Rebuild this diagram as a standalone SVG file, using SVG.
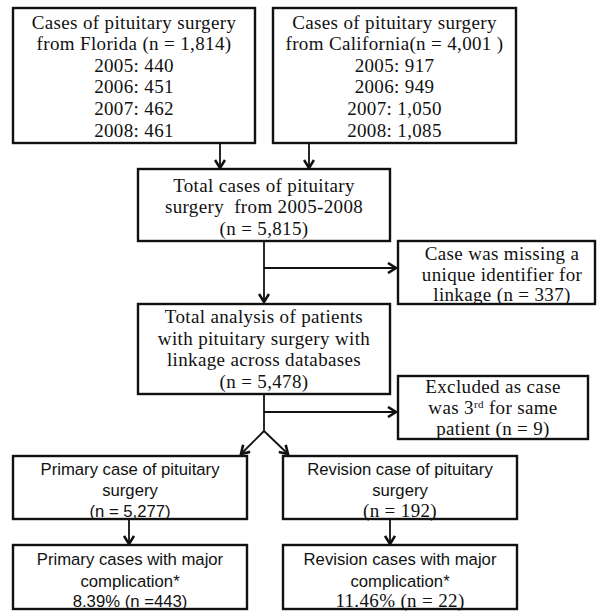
<svg xmlns="http://www.w3.org/2000/svg" width="597" height="611" viewBox="0 0 597 611">
<style>
.box{fill:#fff;stroke:#111;stroke-width:2.4}
.s{font-family:"Liberation Serif","Times New Roman",serif;font-size:19px;letter-spacing:0.35px;fill:#111;text-anchor:middle}
.a{font-family:"Liberation Sans",Arial,sans-serif;font-size:16.7px;fill:#111;text-anchor:middle}
.ln{fill:none;stroke:#111;stroke-width:1.8}
</style>
<defs>
<marker id="ah" viewBox="-10 -6 12 12" markerWidth="12" markerHeight="12" refX="0" refY="0" orient="auto" markerUnits="userSpaceOnUse">
<path d="M-8,-5 L0,0 L-8,5" fill="none" stroke="#111" stroke-width="2.6"/>
</marker>
</defs>
<g id="connectors">
<line class="ln" x1="220" y1="143" x2="220" y2="168" marker-end="url(#ah)"/>
<line class="ln" x1="309" y1="143" x2="309" y2="168" marker-end="url(#ah)"/>
<line class="ln" x1="264" y1="241" x2="264" y2="302" marker-end="url(#ah)"/>
<line class="ln" x1="264" y1="268" x2="396" y2="268" marker-end="url(#ah)"/>
<line class="ln" x1="264" y1="394" x2="264" y2="431"/>
<line class="ln" x1="264" y1="412" x2="396" y2="412" marker-end="url(#ah)"/>
<line class="ln" x1="264" y1="431" x2="241" y2="454" marker-end="url(#ah)"/>
<line class="ln" x1="264" y1="431" x2="288" y2="454" marker-end="url(#ah)"/>
<line class="ln" x1="129" y1="519" x2="129" y2="544" marker-end="url(#ah)"/>
<line class="ln" x1="390" y1="519" x2="390" y2="544" marker-end="url(#ah)"/>
</g>
<g id="florida">
<rect class="box" x="13" y="8" width="242" height="135"/>
<text class="s" x="134" y="29">Cases of pituitary surgery</text>
<text class="s" x="134" y="50">from Florida (n = 1,814)</text>
<text class="s" x="134" y="72">2005: 440</text>
<text class="s" x="134" y="93">2006: 451</text>
<text class="s" x="134" y="115">2007: 462</text>
<text class="s" x="134" y="137">2008: 461</text>
</g>
<g id="california">
<rect class="box" x="273" y="8" width="243" height="135"/>
<text class="s" x="394.5" y="29">Cases of pituitary surgery</text>
<text class="s" x="394.5" y="50">from California(n = 4,001 )</text>
<text class="s" x="394.5" y="72">2005: 917</text>
<text class="s" x="394.5" y="93">2006: 949</text>
<text class="s" x="394.5" y="115">2007: 1,050</text>
<text class="s" x="394.5" y="137">2008: 1,085</text>
</g>
<g id="total">
<rect class="box" x="138" y="169" width="252" height="72"/>
<text class="s" x="264" y="192">Total cases of pituitary</text>
<text class="s" x="264" y="213" xml:space="preserve">surgery  from 2005-2008</text>
<text class="s" x="264" y="235">(n = 5,815)</text>
</g>
<g id="missing">
<rect class="box" x="398" y="241" width="197" height="63"/>
<text class="s" x="502" y="260">Case was missing a</text>
<text class="s" x="502" y="281">unique identifier for</text>
<text class="s" x="502" y="301">linkage (n = 337)</text>
</g>
<g id="analysis">
<rect class="box" x="138" y="304" width="252" height="90"/>
<text class="s" x="264" y="323">Total analysis of patients</text>
<text class="s" x="264" y="345">with pituitary surgery with</text>
<text class="s" x="264" y="366">linkage across databases</text>
<text class="s" x="264" y="388">(n = 5,478)</text>
</g>
<g id="excluded">
<rect class="box" x="398" y="376" width="190" height="63"/>
<text class="s" x="493" y="393">Excluded as case</text>
<text class="s" x="493" y="414">was 3<tspan font-size="11" dy="-6">rd</tspan><tspan dy="6"> for same</tspan></text>
<text class="s" x="493" y="435">patient (n = 9)</text>
</g>
<g id="primary">
<rect class="box" x="13" y="456" width="234" height="63"/>
<text class="a" x="130" y="475">Primary case of pituitary</text>
<text class="a" x="130" y="496">surgery</text>
<text class="a" x="130" y="517">(n = 5,277)</text>
</g>
<g id="revision">
<rect class="box" x="283" y="456" width="234" height="63"/>
<text class="a" x="400" y="475">Revision case of pituitary</text>
<text class="a" x="400" y="496">surgery</text>
<text class="s" x="400" y="517">(n = 192)</text>
</g>
<g id="primary-comp">
<rect class="box" x="13" y="545" width="234" height="64"/>
<text class="a" x="130" y="565">Primary cases with major</text>
<text class="a" x="130" y="587">complication*</text>
<text class="a" x="130" y="607">8.39% (n =443)</text>
</g>
<g id="revision-comp">
<rect class="box" x="283" y="545" width="234" height="64"/>
<text class="a" x="400" y="565">Revision cases with major</text>
<text class="a" x="400" y="587">complication*</text>
<text class="s" x="400" y="607">11.46% (n = 22)</text>
</g>
</svg>
